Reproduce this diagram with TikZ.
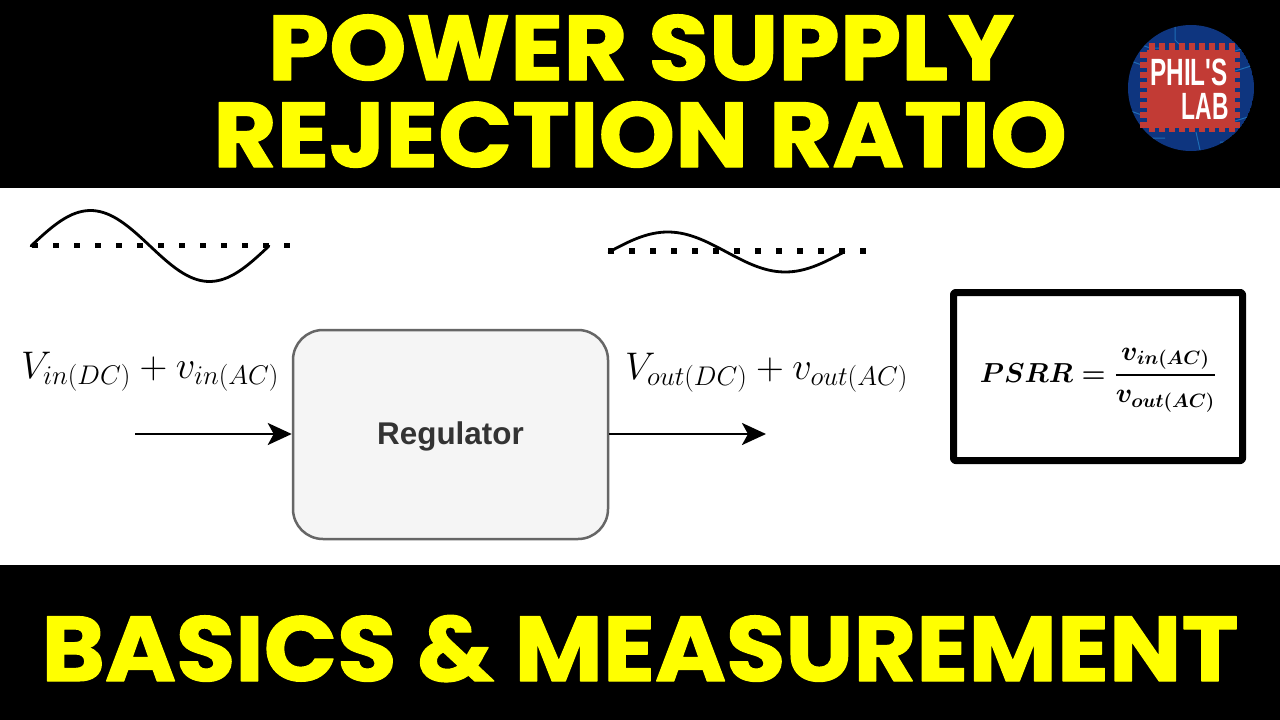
\RequirePackage{fix-cm}
\documentclass[tikz,border=0pt]{standalone}
\usepackage{amsmath}
\usepackage{fontspec}
\newfontfamily\titlefont[FakeBold=1.2]{Poppins Bold}
\newfontfamily\boxfont{Liberation Sans}
\usetikzlibrary{arrows.meta}
\definecolor{stampred}{HTML}{C23B35}
\definecolor{pcbblue}{HTML}{0E357F}
\definecolor{tracklight}{HTML}{1E6DB5}
\definecolor{titleyellow}{HTML}{FFFF00}
\tikzset{
	band/.style={fill=black,draw=none},
	headline/.style={text=titleyellow,inner sep=0pt,anchor=base,font=\titlefont\fontsize{92}{92}\selectfont},
	signal/.style={inner sep=0pt,anchor=base west,font=\fontsize{38.5}{44}\selectfont},
	wave/.style={line width=2.8pt,line cap=round},
	link/.style={line width=2.8pt,-{Stealth[length=24pt,width=22pt,inset=6pt]}},
	regbox/.style={draw=black!60,fill=black!4,line width=2.5pt,rounded corners=30pt,minimum width=315pt,minimum height=209pt,text=black!80,text height=23pt,text depth=3pt,font=\boxfont\bfseries\fontsize{31.4}{36}\selectfont},
	ratiobox/.style={draw=black,line width=7pt,rounded corners=2pt,minimum width=289pt,minimum height=168pt,inner sep=0pt},
	ratiotext/.style={inner sep=0pt,anchor=base,font=\fontsize{27.5}{34}\selectfont\boldmath},
	logotext/.style={text=white,inner sep=0pt,anchor=base east,font=\boxfont\bfseries\fontsize{38}{38}\selectfont}
}
\begin{document}
\begin{tikzpicture}[x=1pt,y=-1pt,line join=round]
	\useasboundingbox (0,0) rectangle (1280,720);
	\fill[white] (0,0) rectangle (1280,720);
	\fill[band] (0,0) rectangle (1280,188);
	\fill[band] (0,565) rectangle (1280,720);
	\node[headline] (title1) at (641,80) {\scalebox{1.07}[1]{POWER SUPPLY}};
	\node[headline] (title2) at (640,167) {\scalebox{1.058}[1]{REJECTION RATIO}};
	\node[headline] (title3) at (640,681) {\scalebox{1.048}[1]{BASICS \& MEASUREMENT}};
	% logo
	\begin{scope}
		\clip (1191,88) circle (63);
		\fill[pcbblue] (1191,88) circle (63);
		\foreach \y in {40,60,110,130}{\draw[tracklight,line width=1pt] (1128,\y) -- (1150,\y+8) -- (1165,\y+8);\draw[tracklight,line width=1pt] (1254,\y+5) -- (1232,\y+12) -- (1220,\y+12);}
		\draw[tracklight,line width=1pt] (1175,25) -- (1175,40) -- (1185,50);
		\draw[tracklight,line width=1pt] (1200,150) -- (1196,132);
	\end{scope}
	\fill[stampred] (1147,50) rectangle (1234,126);
	\foreach \x in {0,...,8}{\fill[stampred] (1149+\x*10,43) rectangle (1155+\x*10,132);}
	\foreach \y in {0,...,7}{\fill[stampred] (1140,52+\y*10) rectangle (1240,58+\y*10);}
	\node[logotext] (phil) at (1228,85) {\scalebox{.64}[1]{PHIL'S}};
	\node[logotext] (lab) at (1229,119) {\scalebox{.6}[1]{LAB}};
	% sine waves
	\foreach \x in {0,...,12}{\fill (35+\x*21-2.7,245.5-2.7) rectangle ++(5.4,5.4);\fill (611+\x*21-2.7,251-2.7) rectangle ++(5.4,5.4);}
	\draw[wave] plot[domain=0:360,samples=70,smooth] ({31+\x/360*238},{246-35.5*sin(\x)});
	\draw[wave] plot[domain=0:360,samples=70,smooth] ({609+\x/360*235},{252-20*sin(\x)});
	% regulator
	\node[regbox] (reg) at (450.5,434.5) {Regulator};
	\node[signal] (vin) at (21,378) {$V_{in(DC)}+v_{in(AC)}$};
	\node[signal] (vout) at (625,379) {$V_{out(DC)}+v_{out(AC)}$};
	\coordinate (start) at (135,434);
	\coordinate (stop) at (766,434);
	\draw[link] (start) -- (start-|reg.west);
	\draw[link] (stop-|reg.east) -- (stop);
	% ratio
	\node[ratiobox] (ratio) at (1098,376.5) {};
	\node[ratiotext] (psrr) at (1098,382) {$PSRR=\genfrac{}{}{1.6pt}{0}{v_{in(AC)}}{v_{out(AC)}}$};
\end{tikzpicture}
\end{document}
